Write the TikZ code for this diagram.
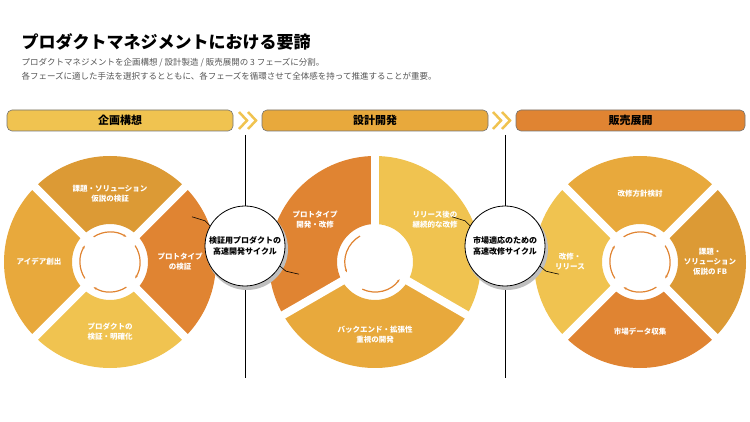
\documentclass[tikz,border=0pt]{standalone}
\usepackage{fontspec}
\setmainfont{Noto Sans CJK JP}
\usetikzlibrary{arrows.meta}
\definecolor{cLight}{HTML}{F0C350}
\definecolor{cMid}{HTML}{E8A93C}
\definecolor{cDark}{HTML}{DC9A35}
\definecolor{cOrange}{HTML}{E08432}
\definecolor{cText}{HTML}{555555}
\newcommand{\sect}[4]{% center x/y, from, to, colour
  \fill[#4] (#1) ++(#2:38) arc (#2:#3:38) -- ++(#3:68) arc (#3:#2:106) -- cycle;}
\begin{document}
\begin{tikzpicture}[
		%Global config
		x=1pt, y=1pt,
		>={Stealth[length=3pt]},
		%Styles
		phase/.style={draw=black!55, line width=0.6pt, rounded corners=5pt, minimum height=21pt, font=\bfseries\fontsize{11}{11}\selectfont},
		seclabel/.style={text=white, font=\bfseries\fontsize{7.5}{10}\selectfont, align=center},
		gap/.style={white, line width=8pt},
		cyc/.style={cOrange, line width=1.2pt, ->},
		bubble/.style={circle, draw=black, fill=white, line width=0.8pt, minimum size=80pt, inner sep=0pt, align=center, font=\bfseries\fontsize{8}{11}\selectfont},
		chev/.style={cLight, line width=2.5pt},
		]
		\useasboundingbox (0,0) rectangle (750,-422);

		% Title
		\node[anchor=west, font=\bfseries\fontsize{17}{17}\selectfont] (title) at (18,-42) {プロダクトマネジメントにおける要諦};
		\node[anchor=north west, text=cText, font=\fontsize{8.5}{13.5}\selectfont, align=left] (sub) at (18,-55)
			{プロダクトマネジメントを企画構想 / 設計製造 / 販売展開の 3 フェーズに分割。\\
			 各フェーズに適した手法を選択するとともに、各フェーズを循環させて全体感を持って推進することが重要。};

		% Phases
		\node[phase, fill=cLight, minimum width=226pt] (p1) at (120,-120.5) {企画構想};
		\node[phase, fill=cMid, minimum width=226pt] (p2) at (375,-120.5) {設計開発};
		\node[phase, fill=cOrange, minimum width=229pt] (p3) at (630.5,-120.5) {販売展開};
		\foreach \x in {239,248,493,502}
			\draw[chev] (\x,-112) -- ++(8,-8.5) -- ++(-8,-8.5);

		% Separators
		\draw[black, line width=0.6pt] (245,-135) -- (245,-378);
		\draw[black, line width=0.6pt] (505,-135) -- (505,-378);

		% Left cycle
		\begin{scope}[shift={(110,-262)}]
			\sect{0,0}{45}{135}{cDark}
			\sect{0,0}{135}{225}{cMid}
			\sect{0,0}{225}{315}{cLight}
			\sect{0,0}{-45}{45}{cOrange}
			\foreach \a in {45,135,225,315} \draw[gap] (\a:30) -- (\a:110);
			\foreach \a in {135,45,-45,-135} \draw[cyc] (\a-12:30) arc (\a-12:\a-78:30);
			\node[seclabel] (l1) at (0,68) {課題・ソリューション\\仮説の検証};
			\node[seclabel] (l2) at (70,0) {プロトタイプ\\の検証};
			\node[seclabel] (l3) at (0,-70) {プロダクトの\\検証・明確化};
			\node[seclabel] (l4) at (-71,0) {アイデア創出};
		\end{scope}

		% Middle cycle
		\begin{scope}[shift={(375,-262)}]
			\sect{0,0}{90}{210}{cOrange}
			\sect{0,0}{-30}{90}{cLight}
			\sect{0,0}{210}{330}{cMid}
			\foreach \a in {90,210,330} \draw[gap] (\a:30) -- (\a:112);
			\draw[cyc] (120:30) arc (120:200:30);
			\draw[cyc] (245:30) arc (245:325:30);
			\node[seclabel] (m1) at (-60,42) {プロトタイプ\\開発・改修};
			\node[seclabel] (m2) at (60,42) {リリース後の\\継続的な改修};
			\node[seclabel] (m3) at (0,-73) {バックエンド・拡張性\\重視の開発};
		\end{scope}

		% Right cycle
		\begin{scope}[shift={(640,-262)}]
			\sect{0,0}{45}{135}{cMid}
			\sect{0,0}{135}{225}{cLight}
			\sect{0,0}{225}{315}{cOrange}
			\sect{0,0}{-45}{45}{cDark}
			\foreach \a in {45,135,225,315} \draw[gap] (\a:30) -- (\a:110);
			\foreach \a in {135,45,-45,-135} \draw[cyc] (\a-12:30) arc (\a-12:\a-78:30);
			\node[seclabel] (r1) at (0,68) {改修方針検討};
			\node[seclabel] (r2) at (70,0) {課題・\\ソリューション\\仮説の FB};
			\node[seclabel] (r3) at (0,-70) {市場データ収集};
			\node[seclabel] (r4) at (-70,0) {改修・\\リリース};
		\end{scope}

		% Bubbles
		\fill[black!25] (247,-249) circle (41);
		\node[bubble] (b1) at (245,-246) {検証用プロダクトの\\高速開発サイクル};
		\draw[line width=0.6pt] (b1.150) -- ++(-5,5) -- ++(-13,4);
		\draw[line width=0.6pt] (b1.-30) -- ++(6,-5) -- ++(13,-3);
		\fill[black!25] (507,-249) circle (41);
		\node[bubble] (b2) at (505,-246) {市場適応のための\\高速改修サイクル};
		\draw[line width=0.6pt] (b2.150) -- ++(-5,5) -- ++(-13,4);
		\draw[line width=0.6pt] (b2.-30) -- ++(6,-5) -- ++(13,-3);
	\end{tikzpicture}
\end{document}
